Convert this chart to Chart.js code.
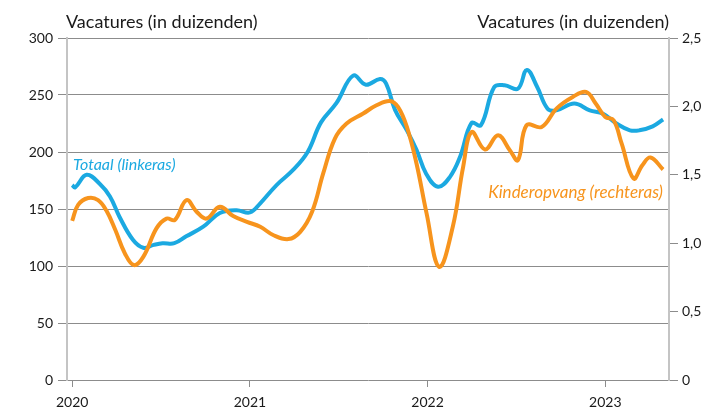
<!DOCTYPE html>
<html>
<head>
<meta charset="utf-8">
<script src="https://cdn.jsdelivr.net/npm/chart.js@4"></script>
<style>
  html, body { margin: 0; padding: 0; background: #fff; }
  #wrap { width: 713px; height: 408px; position: relative; }
</style>
</head>
<body>
<div id="wrap"><canvas id="vacChart"></canvas></div>
<script>
// Months since Jan 2020 (fractional) and values
const totaalMonths = [0, 0.2, 0.97, 1.87, 2.55, 3.2, 4.1, 4.8, 5.5, 6.1, 6.9, 7.7, 8.85, 9.97, 11.1, 12.0, 12.7,
  13.8, 14.9, 15.9, 16.8, 17.85, 18.97, 19.83, 20.78, 21.2, 21.8, 22.6, 23.25, 23.9, 24.7, 25.5, 26.2, 26.97,
  27.6, 28.5, 29.2, 30.1, 30.7, 31.4, 32.1, 32.7, 33.9, 34.95, 35.85, 36.75, 37.66, 38.3, 39.2, 39.9];
const totaalValues = [171, 169, 180, 172, 161, 143, 123, 116, 118.5, 120, 120, 126, 134.5, 146.5, 149, 147, 155,
  171, 184, 200, 226, 243, 267, 259, 264, 260, 237, 219, 202, 181, 169.5, 178, 196, 225.5,
  223.5, 257, 258.5, 255.5, 272, 257, 238, 236.5, 242.5, 236.5, 233.5, 225, 219, 219, 222.5, 228.5];

const kinderMonths = [0, 0.4, 1.08, 1.75, 2.3, 2.9, 3.56, 4.17, 4.8, 5.7, 6.37, 6.93, 7.72, 8.4, 9.07, 9.97, 10.87,
  11.8, 12.7, 13.57, 14.6, 15.4, 16.2, 16.95, 17.74, 18.53, 19.65, 20.55, 21.45, 22.0, 22.6, 23.25, 23.93,
  24.78, 25.7, 26.4, 26.97, 27.87, 28.76, 29.55, 30.1, 30.68, 31.7, 32.7, 33.8, 34.7, 35.35, 36.0, 36.56,
  37.1, 37.9, 38.5, 39.05, 39.9];
const kinderValues = [1.163, 1.28, 1.33, 1.315, 1.24, 1.10, 0.925, 0.84, 0.90, 1.11, 1.18, 1.17, 1.315, 1.23, 1.18, 1.266, 1.198,
  1.156, 1.12, 1.06, 1.03, 1.083, 1.23, 1.51, 1.765, 1.875, 1.948, 2.008, 2.04, 1.996, 1.85, 1.583, 1.218,
  0.827, 1.12, 1.558, 1.813, 1.685, 1.789, 1.68, 1.607, 1.862, 1.85, 1.984, 2.069, 2.106, 2.021, 1.923, 1.899,
  1.729, 1.473, 1.57, 1.627, 1.539];

const yearTicks = [0, 12, 24, 36];   // 2020, 2021, 2022, 2023
const firstYear = 2020;

const BLUE = '#1ba9e1';
const ORANGE = '#f7941d';
const TEXT = '#1a1a1a';
const FONT = 'Lato, "Open Sans", sans-serif';

// Titles and series labels drawn on the canvas
const textPlugin = {
  id: 'texts',
  afterDraw(chart) {
    const ctx = chart.ctx;
    const area = chart.chartArea;
    ctx.save();
    ctx.textBaseline = 'alphabetic';
    ctx.fillStyle = TEXT;
    ctx.font = '18px ' + FONT;
    ctx.textAlign = 'left';
    ctx.fillText('Vacatures (in duizenden)', area.left - 1, 28);
    ctx.textAlign = 'right';
    ctx.fillText('Vacatures (in duizenden)', area.right, 28);

    ctx.font = 'italic 16px ' + FONT;
    ctx.fillStyle = BLUE;
    ctx.textAlign = 'left';
    ctx.fillText('Totaal (linkeras)', 73, 170);
    ctx.font = 'italic 17px ' + FONT;
    ctx.fillStyle = ORANGE;
    ctx.textAlign = 'right';
    ctx.fillText('Kinderopvang (rechteras)', 663, 198);
    ctx.restore();
  }
};

const toPoints = (xs, ys) => xs.map((x, i) => ({ x: x, y: ys[i] }));

new Chart(document.getElementById('vacChart'), {
  type: 'line',
  data: {
    datasets: [
      {
        label: 'Kinderopvang (rechteras)',
        data: toPoints(kinderMonths, kinderValues),
        yAxisID: 'y1',
        borderColor: ORANGE,
        borderWidth: 4,
        pointRadius: 0,
        tension: 0.4,
        fill: false
      },
      {
        label: 'Totaal (linkeras)',
        data: toPoints(totaalMonths, totaalValues),
        yAxisID: 'y',
        borderColor: BLUE,
        borderWidth: 4,
        pointRadius: 0,
        tension: 0.4,
        fill: false
      }
    ]
  },
  options: {
    responsive: true,
    maintainAspectRatio: false,
    animation: false,
    layout: { padding: { top: 38, left: 0, right: 0, bottom: 0 } },
    plugins: {
      legend: { display: false },
      tooltip: { enabled: false }
    },
    scales: {
      x: {
        type: 'linear',
        min: -0.35,
        max: 40.3,
        afterBuildTicks: s => { s.ticks = yearTicks.map(v => ({ value: v })); },
        afterFit: s => { s.height = 28; },
        ticks: {
          callback: v => String(firstYear + v / 12),
          color: TEXT,
          font: { family: FONT, size: 14 },
          padding: 7,
          maxRotation: 0,
          autoSkip: false
        },
        grid: { drawOnChartArea: false, drawTicks: true, tickLength: 7, color: '#8c8c8c' },
        border: { display: false }
      },
      y: {
        position: 'left',
        min: 0,
        max: 300,
        afterFit: s => { s.width = 67; },
        ticks: {
          stepSize: 50,
          color: TEXT,
          font: { family: FONT, size: 14 },
          padding: 5
        },
        grid: { color: '#8c8c8c', lineWidth: 1, tickLength: 9 },
        border: { display: true, color: '#c4c4c4', width: 2 }
      },
      y1: {
        position: 'right',
        min: 0,
        max: 2.5,
        afterFit: s => { s.width = 44; },
        ticks: {
          stepSize: 0.5,
          color: TEXT,
          font: { family: FONT, size: 14 },
          padding: 4,
          callback: v => v === 0 ? '0' : v.toFixed(1).replace('.', ',')
        },
        grid: { drawOnChartArea: false, tickLength: 9, color: '#8c8c8c' },
        border: { display: true, color: '#c4c4c4', width: 2 }
      }
    }
  },
  plugins: [textPlugin]
});
</script>
</body>
</html>
